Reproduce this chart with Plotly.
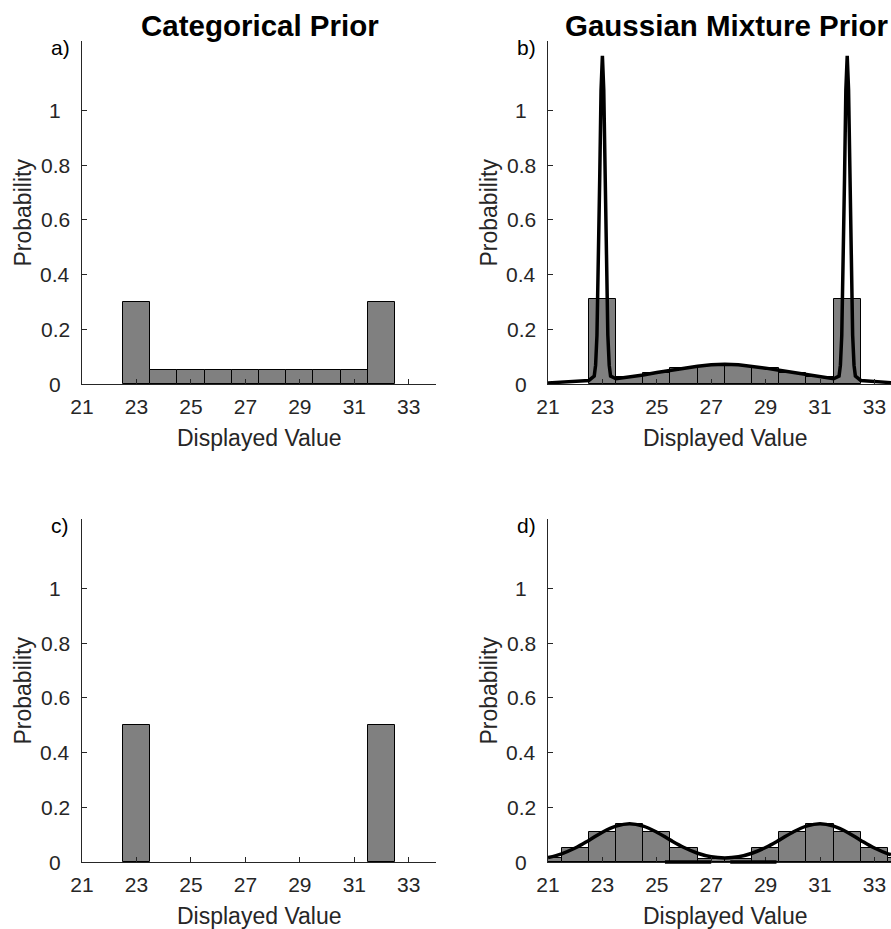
import plotly.graph_objects as go

W, H = 891, 929

# ---------------- data ----------------
a_x = [23, 24, 25, 26, 27, 28, 29, 30, 31, 32]
a_p = [0.30, 0.05, 0.05, 0.05, 0.05, 0.05, 0.05, 0.05, 0.05, 0.30]

b_x = [23, 24, 25, 26, 27, 28, 29, 30, 31, 32]
b_p = [0.31, 0.026, 0.040, 0.059, 0.067, 0.067, 0.059, 0.040, 0.026, 0.31]

c_x = [23, 32]
c_p = [0.5, 0.5]

d_x = [21, 22, 23, 24, 25, 26, 27, 28, 29, 30, 31, 32, 33, 34]
d_p = [0.015, 0.052, 0.110, 0.140, 0.110, 0.052, 0.012, 0.012, 0.052, 0.110, 0.140, 0.110, 0.052, 0.015]

b_curve_x = [21.0, 21.5, 22.0, 22.5, 22.7, 22.75, 22.8, 22.85, 22.9, 22.95, 23.0, 23.05, 23.1, 23.15,
             23.2, 23.25, 23.3, 23.5, 24.0, 24.5, 25.0, 25.5, 26.0, 26.5, 27.0, 27.5, 28.0, 28.5,
             29.0, 29.5, 30.0, 30.5, 31.0, 31.5, 31.7, 31.75, 31.8, 31.85, 31.9, 31.95, 32.0, 32.05,
             32.1, 32.15, 32.2, 32.25, 32.3, 32.5, 33.0, 33.61]
b_curve_y = [0.004, 0.006, 0.009, 0.013, 0.029, 0.069, 0.178, 0.406, 0.744, 1.075, 1.200, 1.075,
             0.744, 0.406, 0.178, 0.069, 0.029, 0.019, 0.025, 0.033, 0.042, 0.050, 0.058, 0.065,
             0.070, 0.072, 0.070, 0.065, 0.058, 0.050, 0.042, 0.033, 0.025, 0.019, 0.029, 0.069,
             0.178, 0.406, 0.744, 1.075, 1.200, 1.075, 0.744, 0.406, 0.178, 0.069, 0.029, 0.013,
             0.009, 0.005]

d_curve_x = [21.0, 21.5, 22.0, 22.5, 23.0, 23.5, 24.0, 24.5, 25.0, 25.5, 26.0, 26.5, 27.0, 27.5,
             28.0, 28.5, 29.0, 29.5, 30.0, 30.5, 31.0, 31.5, 32.0, 32.5, 33.0, 33.5, 33.61]
d_curve_y = [0.016, 0.030, 0.051, 0.079, 0.109, 0.131, 0.140, 0.131, 0.109, 0.080, 0.053, 0.032,
             0.019, 0.015, 0.019, 0.032, 0.053, 0.080, 0.109, 0.131, 0.140, 0.131, 0.109, 0.079,
             0.051, 0.030, 0.027]

d_seg_x = [25.3, 27.0, None, 27.7, 29.4]
d_seg_y = [0.0, 0.0, None, 0.0, 0.0]

x_ticks = [21, 23, 25, 27, 29, 31, 33]
y_ticks = [0, 0.2, 0.4, 0.6, 0.8, 1]
y_tick_text = ["0", "0.2", "0.4", "0.6", "0.8", "1"]

titles = ["Categorical Prior", "Gaussian Mixture Prior"]
panel_labels = ["a)", "b)", "c)", "d)"]

# ---------------- layout geometry (pixels) ----------------
FONT = "Liberation Sans, Arial, sans-serif"
AX = "#262626"
BAR = "#808080"
YMAX = 1.254

panels = [
    # axis suffix, left px, right px, top px, bottom px, xmax
    ("", 82, 436, 41, 384, 34.0),
    ("2", 548, 891, 41, 384, 33.61),
    ("3", 82, 436, 519, 862, 34.0),
    ("4", 548, 891, 519, 862, 33.61),
]


def px_x(p):
    return p / W


def px_y(p):
    return 1 - p / H


fig = go.Figure()

bar_sets = [(a_x, a_p), (b_x, b_p), (c_x, c_p), (d_x, d_p)]
for i, (bx, bp) in enumerate(bar_sets):
    suf = panels[i][0]
    fig.add_trace(go.Bar(
        x=bx, y=bp, width=1.0,
        marker=dict(color=BAR, line=dict(color="#000000", width=1)),
        xaxis="x" + suf, yaxis="y" + suf, showlegend=False,
    ))

fig.add_trace(go.Scatter(x=b_curve_x, y=b_curve_y, mode="lines",
                         line=dict(color="#000000", width=3.5),
                         xaxis="x2", yaxis="y2", showlegend=False))
# thick baseline segments in panel d, on an overlay axis extending a few px below the baseline
fig.add_trace(go.Scatter(x=d_seg_x, y=d_seg_y, mode="lines",
                         line=dict(color="#000000", width=3.5),
                         xaxis="x5", yaxis="y5", showlegend=False))
fig.add_trace(go.Scatter(x=d_curve_x, y=d_curve_y, mode="lines",
                         line=dict(color="#000000", width=3.5, shape="spline"),
                         xaxis="x4", yaxis="y4", showlegend=False))

layout = dict(
    width=W, height=H,
    margin=dict(l=0, r=0, t=0, b=0, autoexpand=False),
    paper_bgcolor="white", plot_bgcolor="rgba(0,0,0,0)",
    font=dict(family=FONT, color=AX, size=21),
    bargap=0, barmode="overlay",
    annotations=[],
)

for i, (suf, l, r, t, b, xmax) in enumerate(panels):
    layout["xaxis" + suf] = dict(
        domain=[px_x(l), px_x(r)], range=[21, xmax],
        anchor="y" + suf, showline=True, linecolor=AX, linewidth=1,
        ticks="inside", ticklen=5, tickcolor=AX, tickwidth=1,
        tickvals=x_ticks, showgrid=False, zeroline=False, automargin=False,
        tickfont=dict(family=FONT, size=21, color=AX),
        ticklabelstandoff=4,
    )
    layout["yaxis" + suf] = dict(
        domain=[px_y(b), px_y(t)], range=[0, YMAX],
        anchor="x" + suf, showline=True, linecolor=AX, linewidth=1,
        ticks="inside", ticklen=5, tickcolor=AX, tickwidth=1,
        tickvals=y_ticks, showticklabels=False, showgrid=False, zeroline=False,
        automargin=False,
    )
    for v, txt in zip(y_ticks, y_tick_text):
        layout["annotations"].append(dict(
            text=txt, x=px_x(l - 27), xref="paper", y=v, yref="y" + suf,
            xanchor="center", yanchor="middle", showarrow=False,
            font=dict(family=FONT, size=21, color=AX),
        ))
    layout["annotations"].append(dict(
        text="Probability", x=px_x(l - 60), xref="paper", y=px_y((t + b) / 2), yref="paper",
        textangle=-90, xanchor="center", yanchor="middle", showarrow=False,
        font=dict(family=FONT, size=23, color=AX),
    ))
    layout["annotations"].append(dict(
        text="Displayed Value", x=px_x(l + 177), xref="paper",
        y=px_y(b + 54), yref="paper", xanchor="center", yanchor="middle", showarrow=False,
        font=dict(family=FONT, size=23, color=AX),
    ))
    layout["annotations"].append(dict(
        text=panel_labels[i], x=px_x(l - 22), xref="paper", y=px_y(t + 6), yref="paper",
        xanchor="center", yanchor="middle", showarrow=False,
        font=dict(family=FONT, size=21, color="#000000"),
    ))

# overlay axes for panel d's baseline segments (same scale, 4 px extra below)
_, l4, r4, t4, b4, xmax4 = panels[3]
extra = 4
layout["xaxis5"] = dict(domain=[px_x(l4), px_x(r4)], range=[21, xmax4], anchor="y5",
                        overlaying="x4", visible=False, automargin=False)
layout["yaxis5"] = dict(domain=[px_y(b4 + extra), px_y(t4)],
                        range=[-extra * YMAX / (b4 - t4), YMAX], anchor="x5",
                        visible=False, automargin=False)

for j, title in enumerate(titles):
    l = panels[j][1]
    layout["annotations"].append(dict(
        text="<b>" + title + "</b>", x=px_x(l + 178), xref="paper", y=px_y(25), yref="paper",
        xanchor="center", yanchor="middle", showarrow=False,
        font=dict(family=FONT, size=29.5, color="#000000"),
    ))

fig.update_layout(**layout)
fig.write_html("out.html", config={"displayModeBar": False},
               post_script="document.body.style.margin='0';")
